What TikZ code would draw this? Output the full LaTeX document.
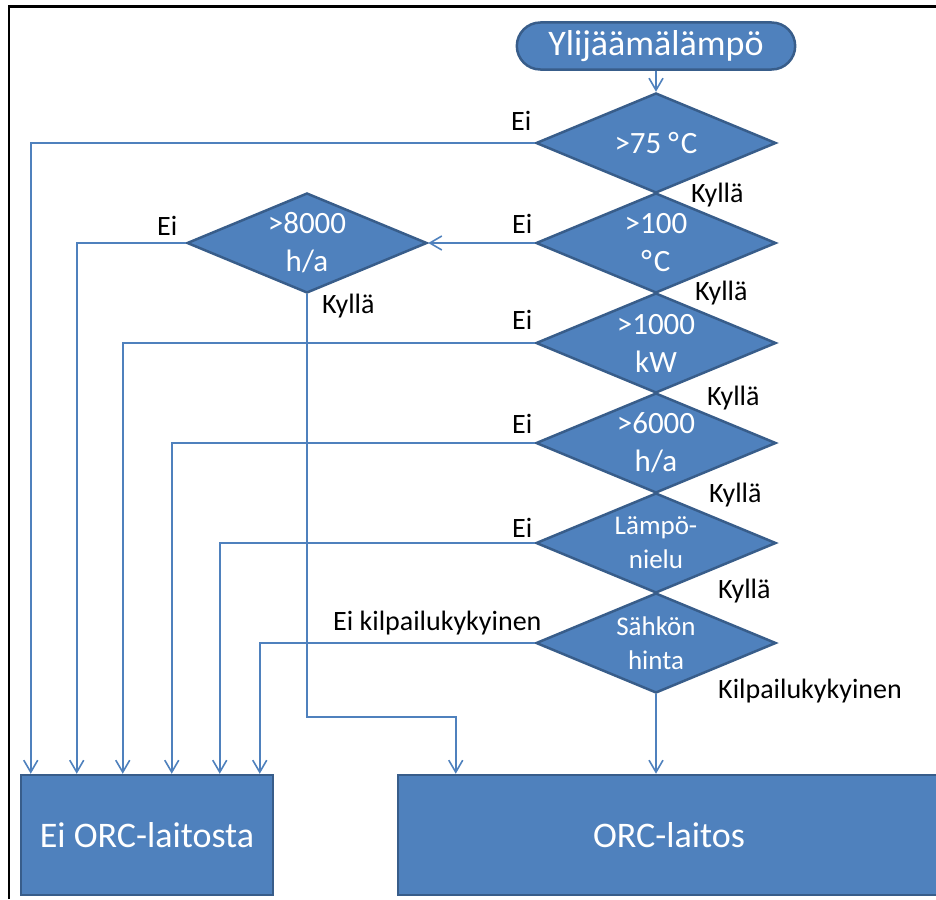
\documentclass[tikz,border=0pt]{standalone}
\usepackage{fontspec}
\setmainfont{Carlito}
\usetikzlibrary{shapes.geometric,shapes.misc,arrows.meta}
\definecolor{orcfill}{HTML}{4F81BD}
\definecolor{orcedge}{HTML}{385D8A}
\newcommand{\degC}{°\kern2pt C}
\tikzset{
  startbox/.style={rounded rectangle, fill=orcfill, draw=orcedge, line width=2.5pt,
    minimum width=285, minimum height=47, text=white, font=\fontsize{36}{40}\selectfont},
  decisionbox/.style={diamond, fill=orcfill, draw=orcedge, line width=2.5pt, inner sep=0pt,
    shape aspect=2.4, minimum width=240, minimum height=100, align=center, text=white,
    font=\fontsize{31}{38}\selectfont},
  smalltext/.style={font=\fontsize{27}{34}\selectfont},
  resultbox/.style={rectangle, fill=orcfill, draw=orcedge, line width=2.5pt,
    minimum height=120, text=white, font=\fontsize{36}{40}\selectfont},
  flowline/.style={draw=orcfill, line width=1.6pt, -{Straight Barb[length=12pt,width=14pt]}},
  lbl/.style={inner sep=0pt, anchor=base west, font=\fontsize{28}{32}\selectfont}
}
\begin{document}
\begin{tikzpicture}[x=1pt, y=-1pt]
    \useasboundingbox (0,0) rectangle (936,899);
    % kehys
    \draw[line width=2.5pt] (9,899) -- (9,6.5) -- (940,6.5);
    % alku ja paatokset
    \node[startbox] (start) at (656,46) {Ylijäämälämpö};
    \node[decisionbox] (t75) at (656,143) {>75 \degC};
    \node[decisionbox] (t100) at (656,243) {>100\\\degC};
    \node[decisionbox] (p1000) at (656,343) {>1000\\kW};
    \node[decisionbox] (h6000) at (656,443) {>6000\\h/a};
    \node[decisionbox, smalltext] (sink) at (656,543) {Lämpö-\\nielu};
    \node[decisionbox, smalltext] (price) at (656,643) {Sähkön\\hinta};
    \node[decisionbox] (h8000) at (307,243) {>8000\\h/a};
    % lopputulokset
    \node[resultbox, minimum width=252] (noorc) at (147,835) {Ei ORC-laitosta};
    \node[resultbox, minimum width=560] (orc) at (678,835) {ORC-laitos\hspace*{18pt}};
    % yhteydet
    \draw[flowline] (start) -- (t75);
    \draw[flowline] (t75.west) -| ([xshift=11]noorc.north west);
    \draw[flowline] (t100.west) -- (h8000.east);
    \draw[flowline] (h8000.west) -| ([xshift=57]noorc.north west);
    \draw[flowline] (p1000.west) -| ([xshift=103]noorc.north west);
    \draw[flowline] (h6000.west) -| ([xshift=152]noorc.north west);
    \draw[flowline] (sink.west) -| ([xshift=200]noorc.north west);
    \draw[flowline] (price.west) -| ([xshift=240]noorc.north west);
    \draw[flowline] (h8000.south) -- (h8000.south |- 0,717) -| ([xshift=59]orc.north west);
    \draw[flowline] (price.south) -- (price.south |- orc.north);
    % vastaukset
    \node[lbl] (ei1) at (511,130) {Ei};
    \node[lbl] (ky1) at (691,202) {Kyllä};
    \node[lbl] (ei2) at (512,233) {Ei};
    \node[lbl] (ky2) at (695,300) {Kyllä};
    \node[lbl] (ei3) at (512,329) {Ei};
    \node[lbl] (ky3) at (707,405) {Kyllä};
    \node[lbl] (ei4) at (512,433) {Ei};
    \node[lbl] (ky4) at (709,502) {Kyllä};
    \node[lbl] (ei5) at (512,537) {Ei};
    \node[lbl] (ky5) at (718,598) {Kyllä};
    \node[lbl] (eik) at (333,630) {Ei kilpailukykyinen};
    \node[lbl] (kil) at (718,698) {Kilpailukykyinen};
    \node[lbl] (ei8) at (157,235) {Ei};
    \node[lbl] (ky8) at (322,313) {Kyllä};
\end{tikzpicture}
\end{document}
